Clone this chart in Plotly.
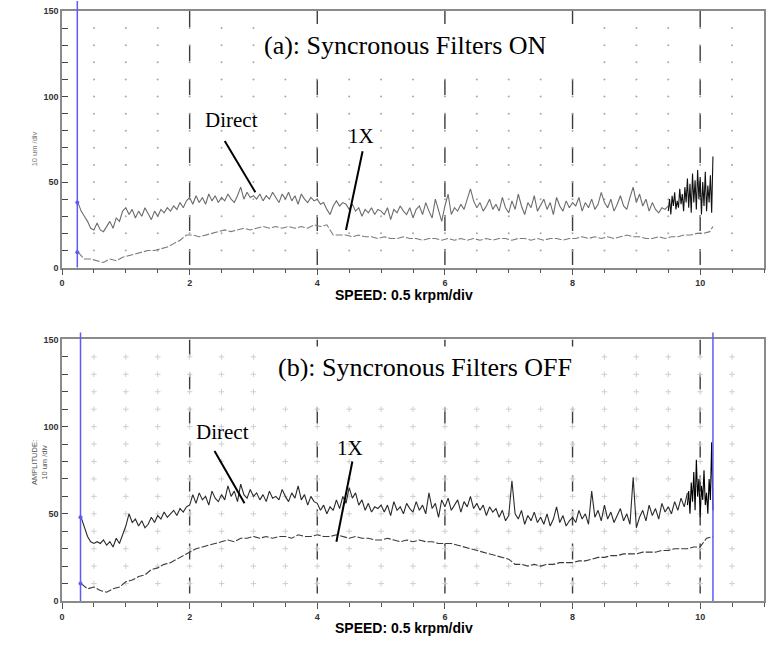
import plotly.graph_objects as go

# ---------------- data ----------------
# Speed axis in units of 0.5 krpm/div ; amplitude in um
X_RANGE = [0, 11]
Y_RANGE = [0, 150]

# (a) Filters ON -- Direct (grey part), sampled every 0.05 from 0.25 to 9.50
direct_on_start, direct_on_step = 0.25, 0.05
direct_on = [
    38, 33, 30, 27, 23, 22,
    26, 22, 21, 24, 27, 23, 29, 27, 33, 35,
    31, 34, 29, 33, 30, 35, 31, 28, 33, 30,
    34, 32, 35, 33, 36, 34, 38, 35, 39, 41,
    37, 42, 38, 41, 37, 43, 39, 42, 38, 41,
    39, 43, 40, 38, 42, 47, 40, 44, 41, 42,
    40, 43, 39, 42, 40, 44, 41, 38, 43, 40,
    44, 39, 42, 37, 43, 40, 38, 41, 39, 40,
    37, 38, 34, 31, 36, 39, 36, 38, 37, 34,
    37, 33, 35, 30, 34, 32, 35, 31, 34, 33,
    31, 35, 28, 34, 32, 36, 33, 31, 35, 29,
    34, 36, 31, 38, 33, 29, 40, 34, 27, 36,
    43, 31, 35, 33, 37, 34, 40, 46, 39, 35,
    38, 33, 36, 40, 34, 37, 33, 41, 35, 32,
    39, 34, 43, 36, 31, 38, 35, 42, 33, 37,
    40, 34, 38, 31, 41, 36, 33, 39, 35, 38,
    36, 41, 33, 38, 35, 40, 34, 37, 44, 38,
    35, 40, 33, 37, 42, 36, 34, 41, 47, 38,
    43, 36, 40, 33, 38, 34, 32, 35, 34, 36,
]
# (a) Direct, dense black part near top speed, every 0.02 from 9.50 to 10.20
direct_on_hi_start, direct_on_hi_step = 9.50, 0.02
direct_on_hi = [
    33, 40, 31, 42, 36, 44, 34, 39, 35, 46, 37, 43, 33, 47, 38, 52, 35, 49,
    32, 55, 38, 51, 34, 57, 40, 53, 31, 50, 36, 56, 33, 48, 38, 54, 32, 65,
]
# (a) 1X, every 0.1 from 0.25 to 10.15, plus last point
onex_on_start, onex_on_step = 0.25, 0.1
onex_on = [
    9, 5, 5, 4, 3, 5, 4, 6,
    7, 8, 9, 10, 10, 11, 12, 14, 16, 19,
    19, 18, 19, 20, 21, 22, 21, 22, 23, 22,
    23, 24, 23, 24, 23, 24, 23, 24, 23, 25,
    24, 25, 19, 19, 19, 18, 19, 18, 18, 17,
    18, 17, 17, 18, 17, 17, 16, 17, 17, 16,
    17, 16, 17, 16, 17, 16, 17, 16, 17, 17,
    16, 17, 17, 16, 17, 16, 17, 17, 16, 17,
    17, 18, 17, 18, 17, 18, 17, 18, 19, 18,
    18, 17, 17, 18, 17, 18, 18, 19, 19, 20,
    20, 21,
]
onex_on_end_x = [10.2]
onex_on_end = [24]

# (b) Filters OFF -- Direct, every 0.05 from 0.30 to 9.80
direct_off_start, direct_off_step = 0.30, 0.05
direct_off = [
    48, 42, 37, 34, 33,
    34, 33, 35, 32, 34, 31, 36, 33, 38, 43,
    50, 45, 47, 43, 46, 42, 44, 48, 45, 49,
    47, 51, 48, 50, 52, 49, 53, 51, 54, 55,
    61, 56, 62, 58, 60, 55, 63, 59, 57, 61,
    58, 66, 60, 63, 57, 67, 61, 59, 64, 60,
    62, 58, 61, 57, 63, 59, 60, 58, 64, 60,
    57, 62, 59, 66, 58, 61, 55, 60, 57, 56,
    52, 55, 50, 54, 52, 58, 53, 60, 56, 65,
    59, 62, 55, 58, 52, 56, 51, 54, 53, 55,
    51, 55, 49, 57, 52, 54, 50, 56, 53, 51,
    57, 52, 55, 50, 62, 53, 56, 48, 58, 54,
    59, 52, 55, 58, 51, 57, 54, 60, 53, 56,
    52, 55, 49, 54, 51, 53, 48, 52, 46, 49,
    69, 50, 47, 52, 44, 49, 46, 51, 45, 48,
    44, 50, 43, 47, 54, 45, 49, 43, 46, 48,
    45, 52, 47, 50, 44, 63, 48, 52, 46, 55,
    47, 51, 45, 49, 53, 46, 50, 44, 71, 42,
    48, 52, 46, 55, 49, 53, 47, 56, 51, 54,
    50, 57, 52, 59, 54, 62,
]
# (b) Direct, dense black part, every 0.02 from 9.80 to 10.20
direct_off_hi_start, direct_off_hi_step = 9.80, 0.02
direct_off_hi = [55, 63, 50, 68, 57, 74, 52, 81, 60, 70, 48, 66, 58, 75, 55,
                 62, 50, 70, 58, 91, 52]
# (b) 1X, every 0.1 from 0.30 to 10.20
onex_off_start, onex_off_step = 0.30, 0.1
onex_off = [
    10, 7, 8, 6, 5, 7, 8,
    11, 12, 14, 15, 18, 19, 21, 22, 24, 26,
    28, 30, 31, 32, 33, 34, 35, 34, 36, 36,
    37, 36, 37, 36, 37, 37, 36, 38, 37, 37,
    38, 37, 37, 38, 37, 36, 37, 36, 36, 35,
    35, 36, 35, 34, 35, 34, 35, 34, 34, 33,
    33, 33, 32, 31, 30, 29, 28, 27, 26, 25,
    24, 21, 21, 20, 21, 20, 21, 21, 22, 22,
    22, 23, 23, 24, 25, 25, 26, 26, 27, 27,
    27, 28, 28, 28, 29, 29, 30, 30, 30, 31,
    31, 36, 37,
]

# cursor (blue) positions
cursor_on = [0.24]
cursor_off = [0.29, 10.2]

x_ticks = [0, 2, 4, 6, 8, 10]
y_ticks = [0, 50, 100, 150]


def grid(start, step, n):
    return [round(start + step * i, 3) for i in range(n)]


# ---------------- figure ----------------
W, H = 772, 650
M = dict(l=62, r=6, t=10, b=49)
PH = H - M["t"] - M["b"]
PW = W - M["l"] - M["r"]
top_dom = [(601 - 267) / PH, 1.0]
bot_dom = [0.0, (601 - 339) / PH]


def px_x(p):
    return (p - M["l"]) / PW


def px_y(p):
    return (H - M["b"] - p) / PH


fig = go.Figure()

# grid dots
gx = [0.5 * i for i in range(1, 22)]
gy = [10 * j for j in range(1, 15)]
dx = [a for a in gx for b in gy]
dy = [b for a in gx for b in gy]
fig.add_trace(go.Scatter(x=dx, y=dy, mode="markers", xaxis="x", yaxis="y",
                         marker=dict(size=2, color="#a8a8a8"), hoverinfo="skip"))
fig.add_trace(go.Scatter(x=dx, y=dy, mode="markers", xaxis="x2", yaxis="y2",
                         marker=dict(size=4, symbol="cross-thin",
                                     line=dict(width=1, color="#cfcfcf")),
                         hoverinfo="skip"))

# (a) traces
fig.add_trace(go.Scatter(x=grid(onex_on_start, onex_on_step, len(onex_on)) + onex_on_end_x,
                         y=onex_on + onex_on_end, mode="lines", xaxis="x", yaxis="y",
                         line=dict(color="#7a7a7a", width=1.1, dash="7px,2px")))
fig.add_trace(go.Scatter(x=grid(direct_on_start, direct_on_step, len(direct_on)),
                         y=direct_on, mode="lines", xaxis="x", yaxis="y",
                         line=dict(color="#6c6c6c", width=1.1)))
fig.add_trace(go.Scatter(x=grid(direct_on_hi_start, direct_on_hi_step, len(direct_on_hi)),
                         y=direct_on_hi, mode="lines", xaxis="x", yaxis="y",
                         line=dict(color="#111111", width=1.1)))
fig.add_trace(go.Scatter(x=[cursor_on[0], cursor_on[0]], y=[direct_on[0], onex_on[0]],
                         mode="markers", xaxis="x", yaxis="y",
                         marker=dict(size=4, color="#5a5aff")))

# (b) traces
fig.add_trace(go.Scatter(x=grid(onex_off_start, onex_off_step, len(onex_off)),
                         y=onex_off, mode="lines", xaxis="x2", yaxis="y2",
                         line=dict(color="#3a3a3a", width=1.1, dash="7px,2px")))
fig.add_trace(go.Scatter(x=grid(direct_off_start, direct_off_step, len(direct_off)),
                         y=direct_off, mode="lines", xaxis="x2", yaxis="y2",
                         line=dict(color="#2a2a2a", width=1.1)))
fig.add_trace(go.Scatter(x=grid(direct_off_hi_start, direct_off_hi_step, len(direct_off_hi)),
                         y=direct_off_hi, mode="lines", xaxis="x2", yaxis="y2",
                         line=dict(color="#000000", width=1.1)))
fig.add_trace(go.Scatter(x=[cursor_off[0], cursor_off[0]], y=[direct_off[0], onex_off[0]],
                         mode="markers", xaxis="x2", yaxis="y2",
                         marker=dict(size=4, color="#5a5aff")))

shapes = []
# dashed verticals at the major speed ticks
for xr, yr in (("x", "y"), ("x2", "y2")):
    for t in x_ticks[1:]:
        shapes.append(dict(type="line", xref=xr, yref=yr, x0=t, x1=t, y0=Y_RANGE[1], y1=Y_RANGE[0],
                           line=dict(color="#3c3c3c", width=1.4, dash="16px,18px"), layer="below"))

# white boxes behind the panel titles
for (l, t, r, b) in ((256, 23, 580, 72), (272, 346, 582, 400)):
    shapes.append(dict(type="rect", xref="paper", yref="paper", x0=px_x(l), x1=px_x(r),
                       y0=px_y(b), y1=px_y(t), fillcolor="white", line=dict(width=0),
                       layer="above"))


# blue cursors (extend a little above the plot frame)
def xpaper(v):
    return (v - X_RANGE[0]) / (X_RANGE[1] - X_RANGE[0])


for c in cursor_on:
    shapes.append(dict(type="line", xref="paper", yref="paper", x0=xpaper(c), x1=xpaper(c),
                       y0=top_dom[0], y1=top_dom[1] + 10 / PH,
                       line=dict(color="#5c5cf5", width=1.5)))
for c in cursor_off:
    shapes.append(dict(type="line", xref="paper", yref="paper", x0=xpaper(c), x1=xpaper(c),
                       y0=bot_dom[0], y1=bot_dom[1] + 7 / PH,
                       line=dict(color="#5c5cf5", width=1.5)))

# pointer lines for the labels
pointer = dict(color="#000000", width=2)
shapes += [
    dict(type="line", xref="x", yref="y", x0=2.55, y0=74, x1=3.03, y1=44, line=pointer),
    dict(type="line", xref="x", yref="y", x0=4.71, y0=68, x1=4.45, y1=22, line=pointer),
    dict(type="line", xref="x2", yref="y2", x0=2.39, y0=86, x1=2.86, y1=56, line=pointer),
    dict(type="line", xref="x2", yref="y2", x0=4.55, y0=80, x1=4.30, y1=34, line=pointer),
]

serif = "Liberation Serif, Times New Roman, serif"
sans = "Liberation Sans, Arial, sans-serif"
ann = []
ann.append(dict(text="(a): Syncronous Filters ON", xref="x", yref="y", x=5.39, y=130,
                showarrow=False, font=dict(family=serif, size=26, color="#000")))
ann.append(dict(text="(b): Syncronous Filters OFF", xref="x2", yref="y2", x=5.69, y=134,
                showarrow=False, font=dict(family=serif, size=26, color="#000")))
ann.append(dict(text="Direct", xref="x", yref="y", x=2.66, y=86,
                showarrow=False, font=dict(family=serif, size=21, color="#000")))
ann.append(dict(text="1X", xref="x", yref="y", x=4.69, y=77,
                showarrow=False, font=dict(family=serif, size=21, color="#000")))
ann.append(dict(text="Direct", xref="x2", yref="y2", x=2.52, y=97,
                showarrow=False, font=dict(family=serif, size=21, color="#000")))
ann.append(dict(text="1X", xref="x2", yref="y2", x=4.52, y=88,
                showarrow=False, font=dict(family=serif, size=21, color="#000")))
# axis titles
ann.append(dict(text="SPEED: 0.5 krpm/div", xref="x", yref="y domain", x=5.36, y=-0.144,
                showarrow=False, font=dict(family=sans, size=14, color="#000", weight="bold")))
ann.append(dict(text="SPEED: 0.5 krpm/div", xref="x2", yref="y2 domain", x=5.36, y=-0.141,
                showarrow=False, font=dict(family=sans, size=14, color="#000", weight="bold")))
ann.append(dict(text="10 um /div", xref="paper", yref="y domain", x=-34 / PW, y=0.463,
                textangle=-90, showarrow=False, font=dict(family=sans, size=7.5, color="#777")))
ann.append(dict(text="AMPLITUDE:<br>10 um /div", xref="paper", yref="y2 domain", x=-34 / PW, y=0.53,
                textangle=-90, showarrow=False, font=dict(family=sans, size=7.5, color="#555")))

common_x = dict(range=X_RANGE, tickvals=x_ticks, ticks="outside", ticklen=6, tickwidth=1,
                tickcolor="#555", showgrid=False, zeroline=False, showline=True,
                linecolor="#8a8a8a", linewidth=1.5, mirror=True,
                tickfont=dict(family=sans, size=9, color="#333", weight="bold"),
                minor=dict(dtick=0.5, tick0=0, ticks="outside", ticklen=4, tickcolor="#555"))
common_y = dict(range=Y_RANGE, tickvals=y_ticks, ticks="inside", ticklen=6, tickwidth=1,
                tickcolor="#444", showgrid=False, zeroline=False, showline=True,
                linecolor="#8a8a8a", linewidth=1.5, mirror=True,
                tickfont=dict(family=sans, size=9, color="#333", weight="bold"),
                minor=dict(dtick=10, tick0=0, ticks="inside", ticklen=6, tickcolor="#444"))

fig.update_layout(
    width=W, height=H, margin=M, showlegend=False,
    paper_bgcolor="white", plot_bgcolor="white",
    xaxis=dict(common_x, domain=[0, 1], anchor="y"),
    yaxis=dict(common_y, domain=top_dom, anchor="x"),
    xaxis2=dict(common_x, domain=[0, 1], anchor="y2"),
    yaxis2=dict(common_y, domain=bot_dom, anchor="x2"),
    shapes=shapes, annotations=ann,
)

fig.write_html("out.html")
